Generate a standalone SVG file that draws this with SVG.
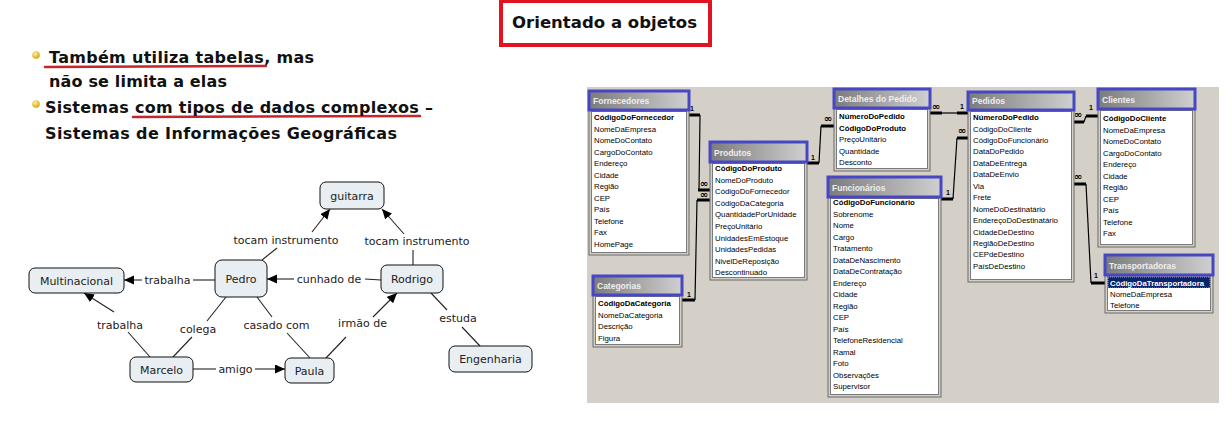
<svg xmlns="http://www.w3.org/2000/svg" width="1232" height="433" viewBox="0 0 1232 433">
<style>
.hd{font-family:"DejaVu Sans",Verdana,sans-serif;font-weight:bold;fill:#111}
.ul{stroke:#c4262c;stroke-width:2.5;fill:none;stroke-linecap:round}
.node rect{fill:#e8eef2;stroke:#111;stroke-width:1}
.nt{font-family:"DejaVu Sans",Verdana,sans-serif;font-size:11px;fill:#222;text-anchor:middle}
.ed{stroke:#222;stroke-width:1.1;fill:none}
.ar{marker-end:url(#ah)}
.fr{fill:#d4d0c8;stroke:#6a6a6a;stroke-width:1}
.bd{fill:#fff;stroke:#7a7a7a;stroke-width:1}
.tb{fill:url(#tg)}
.hl{fill:none;stroke:#4747c4;stroke-width:3}
.tt{font-family:"Liberation Sans",Arial,sans-serif;font-size:8.5px;font-weight:bold;fill:#eeeeee}
.rw{font-family:"Liberation Sans",Arial,sans-serif;font-size:7.8px;fill:#000}
.pk{font-weight:bold}
.rl{stroke:#000;stroke-width:1.2;fill:none}
.st{stroke:#000;stroke-width:3;fill:none}
.cd{font-family:"Liberation Sans",Arial,sans-serif;font-size:7px;font-weight:bold;fill:#000}
.inf{font-family:"DejaVu Sans",sans-serif;font-size:10px;font-weight:bold;fill:#000;text-anchor:middle}
</style>
<defs>
<marker id="ah" markerUnits="userSpaceOnUse" markerWidth="11" markerHeight="10" refX="10" refY="4.5" orient="auto">
<path d="M0,0 L10,4.5 L0,9 z" fill="#000"/>
</marker>
<linearGradient id="tg" x1="0" y1="0" x2="1" y2="0">
<stop offset="0" stop-color="#7c7c7c"/>
<stop offset="1" stop-color="#cfcfcf"/>
</linearGradient>
<radialGradient id="bl" cx="0.4" cy="0.35" r="0.7">
<stop offset="0" stop-color="#fff3a0"/>
<stop offset="1" stop-color="#d49a00"/>
</radialGradient>
</defs>
<rect width="1232" height="433" fill="#fff"/>

<g id="title">
<rect x="501" y="1" width="209" height="44" fill="#fff" stroke="#e0141e" stroke-width="4"/>
<text class="hd" x="512" y="28" font-size="16.5" textLength="185">Orientado a objetos</text>
</g>

<g id="bullets">
<circle cx="36" cy="55" r="3.8" fill="url(#bl)"/>
<circle cx="36" cy="104" r="3.8" fill="url(#bl)"/>
<path class="ul" d="M45,67 L266,66"/>
<path class="ul" d="M133,117 L420,116"/>
<text class="hd" x="49" y="63" font-size="16" textLength="265">Também utiliza tabelas, mas</text>
<text class="hd" x="49" y="87" font-size="16" textLength="178">não se limita a elas</text>
<text class="hd" x="45" y="113" font-size="16" textLength="388">Sistemas com tipos de dados complexos –</text>
<text class="hd" x="45" y="139" font-size="16" textLength="352">Sistemas de Informações Geográficas</text>
</g>

<g id="connectors">
<path class="ed" d="M262,260 L277,248"/>
<path class="ed ar" d="M312,232 L330,209"/>
<path class="ed" d="M413,265 L413,250"/>
<path class="ed ar" d="M404,234 L382,209"/>
<path class="ed" d="M215,280 L193,280"/>
<path class="ed ar" d="M142,280 L124,280"/>
<path class="ed" d="M381,280 L365,279"/>
<path class="ed ar" d="M294,279 L267,279"/>
<path class="ed" d="M150,357 L128,332"/>
<path class="ed ar" d="M114,312 L84,293"/>
<path class="ed" d="M173,357 L192,337"/>
<path class="ed" d="M207,321 L226,297"/>
<path class="ed" d="M257,297 L272,317"/>
<path class="ed" d="M287,333 L310,358"/>
<path class="ed" d="M326,358 L346,337"/>
<path class="ed ar" d="M373,317 L397,293"/>
<path class="ed" d="M431,293 L447,310"/>
<path class="ed" d="M462,327 L480,346"/>
<path class="ed" d="M193,369 L216,369"/>
<path class="ed ar" d="M255,369 L285,369"/>
<text class="nt" x="286" y="244">tocam instrumento</text>
<text class="nt" x="417" y="245">tocam instrumento</text>
<text class="nt" x="167.5" y="284">trabalha</text>
<text class="nt" x="329" y="283">cunhado de</text>
<text class="nt" x="120" y="329">trabalha</text>
<text class="nt" x="198" y="333">colega</text>
<text class="nt" x="276.5" y="329">casado com</text>
<text class="nt" x="362.5" y="327">irmão de</text>
<text class="nt" x="458" y="322">estuda</text>
<text class="nt" x="235.5" y="373">amigo</text>
</g>

<g id="n-guitarra" class="node"><rect x="320" y="182" width="64" height="27" rx="6"/><text class="nt" x="352" y="200">guitarra</text></g>
<g id="n-multinacional" class="node"><rect x="29" y="268" width="95" height="25" rx="6"/><text class="nt" x="76.5" y="285">Multinacional</text></g>
<g id="n-pedro" class="node"><rect x="215" y="260" width="52" height="37" rx="7"/><text class="nt" x="241" y="283">Pedro</text></g>
<g id="n-rodrigo" class="node"><rect x="381" y="265" width="62" height="28" rx="6"/><text class="nt" x="412" y="283">Rodrigo</text></g>
<g id="n-marcelo" class="node"><rect x="130" y="357" width="63" height="25" rx="6"/><text class="nt" x="161.5" y="374">Marcelo</text></g>
<g id="n-paula" class="node"><rect x="285" y="358" width="49" height="25" rx="6"/><text class="nt" x="309.5" y="375">Paula</text></g>
<g id="n-engenharia" class="node"><rect x="449" y="346" width="83" height="26" rx="6"/><text class="nt" x="490.5" y="363">Engenharia</text></g>

<rect id="db-panel" x="587" y="87" width="632" height="316" fill="#d4d0c8"/>

<g id="db-connectors">
<path class="st" d="M687,115 H700"/><path class="rl" d="M700,115 L699,190"/><path class="st" d="M698,190 H712"/>
<text class="cd" x="690" y="111">1</text><text class="inf" x="704" y="187">∞</text>
<path class="st" d="M681,300 H695"/><path class="rl" d="M695,300 L697,200"/><path class="st" d="M697,200 H712"/>
<text class="cd" x="687" y="297">1</text><text class="inf" x="704" y="198">∞</text>
<path class="st" d="M806,163 H819"/><path class="rl" d="M819,163 L821,126"/><path class="st" d="M821,126 H835"/>
<text class="cd" x="811" y="160">1</text><text class="inf" x="828" y="122">∞</text>
<path class="st" d="M929,113 H942"/><path class="rl" d="M942,113 H957"/><path class="st" d="M957,113 H969"/>
<text class="inf" x="936" y="110">∞</text><text class="cd" x="960" y="109">1</text>
<path class="st" d="M940,199 H953"/><path class="rl" d="M953,199 L957,138"/><path class="st" d="M957,138 H969"/>
<text class="cd" x="946" y="195">1</text><text class="inf" x="962" y="134">∞</text>
<path class="st" d="M1073,122 H1084"/><path class="rl" d="M1084,122 L1086,116"/><path class="st" d="M1086,116 H1100"/>
<text class="inf" x="1078" y="118">∞</text><text class="cd" x="1089" y="110">1</text>
<path class="st" d="M1073,184 H1086"/><path class="rl" d="M1086,184 L1091,283"/><path class="st" d="M1091,283 H1107"/>
<text class="inf" x="1078" y="180">∞</text><text class="cd" x="1094" y="278">1</text>
</g>

<g id="t-fornecedores">
<rect class="fr" x="589" y="91" width="100" height="164"/>
<rect class="tb" x="590" y="92" width="98" height="18"/>
<rect class="bd" x="591.5" y="111.5" width="95" height="141"/>
<rect class="hl" x="589" y="91" width="100" height="19"/>
<text class="tt" x="593" y="104">Fornecedores</text>
<text class="rw pk" x="594" y="120">CódigoDoFornecedor</text>
<text class="rw" x="594" y="131.5">NomeDaEmpresa</text>
<text class="rw" x="594" y="143">NomeDoContato</text>
<text class="rw" x="594" y="154.5">CargoDoContato</text>
<text class="rw" x="594" y="166">Endereço</text>
<text class="rw" x="594" y="177.5">Cidade</text>
<text class="rw" x="594" y="189">Região</text>
<text class="rw" x="594" y="200.5">CEP</text>
<text class="rw" x="594" y="212">País</text>
<text class="rw" x="594" y="223.5">Telefone</text>
<text class="rw" x="594" y="235">Fax</text>
<text class="rw" x="594" y="246.5">HomePage</text>
</g>

<g id="t-produtos">
<rect class="fr" x="710" y="142" width="97" height="138"/>
<rect class="tb" x="711" y="143" width="95" height="18"/>
<rect class="bd" x="712.5" y="163.5" width="92" height="114"/>
<rect class="hl" x="710" y="142" width="97" height="20"/>
<text class="tt" x="714" y="156">Produtos</text>
<text class="rw pk" x="715" y="171">CódigoDoProduto</text>
<text class="rw" x="715" y="182.6">NomeDoProduto</text>
<text class="rw" x="715" y="194.2">CódigoDoFornecedor</text>
<text class="rw" x="715" y="205.8">CódigoDaCategoria</text>
<text class="rw" x="715" y="217.4">QuantidadePorUnidade</text>
<text class="rw" x="715" y="229">PreçoUnitário</text>
<text class="rw" x="715" y="240.6">UnidadesEmEstoque</text>
<text class="rw" x="715" y="252.2">UnidadesPedidas</text>
<text class="rw" x="715" y="263.8">NivelDeReposição</text>
<text class="rw" x="715" y="275.4">Descontinuado</text>
</g>

<g id="t-categorias">
<rect class="fr" x="593" y="276" width="89" height="71"/>
<rect class="tb" x="594" y="277" width="87" height="17"/>
<rect class="bd" x="595.5" y="296.5" width="84" height="48"/>
<rect class="hl" x="593" y="276" width="89" height="19"/>
<text class="tt" x="597" y="289">Categorias</text>
<text class="rw pk" x="598" y="306">CódigoDaCategoria</text>
<text class="rw" x="598" y="317.6">NomeDaCategoria</text>
<text class="rw" x="598" y="329.2">Descrição</text>
<text class="rw" x="598" y="340.8">Figura</text>
</g>

<g id="t-detalhes">
<rect class="fr" x="834" y="89" width="96" height="82"/>
<rect class="tb" x="835" y="90" width="94" height="17"/>
<rect class="bd" x="836.5" y="109.5" width="91" height="59"/>
<rect class="hl" x="834" y="89" width="96" height="19"/>
<text class="tt" x="838" y="102">Detalhes do Pedido</text>
<text class="rw pk" x="839" y="119">NúmeroDoPedido</text>
<text class="rw pk" x="839" y="130.5">CódigoDoProduto</text>
<text class="rw" x="839" y="142">PreçoUnitário</text>
<text class="rw" x="839" y="153.5">Quantidade</text>
<text class="rw" x="839" y="165">Desconto</text>
</g>

<g id="t-funcionarios">
<rect class="fr" x="828" y="177" width="113" height="220"/>
<rect class="tb" x="829" y="178" width="111" height="18"/>
<rect class="bd" x="830.5" y="198.5" width="108" height="196"/>
<rect class="hl" x="828" y="177" width="113" height="20"/>
<text class="tt" x="832" y="191">Funcionários</text>
<text class="rw pk" x="833" y="205">CódigoDoFuncionário</text>
<text class="rw" x="833" y="216.5">Sobrenome</text>
<text class="rw" x="833" y="228">Nome</text>
<text class="rw" x="833" y="239.5">Cargo</text>
<text class="rw" x="833" y="251">Tratamento</text>
<text class="rw" x="833" y="262.5">DataDeNascimento</text>
<text class="rw" x="833" y="274">DataDeContratação</text>
<text class="rw" x="833" y="285.5">Endereço</text>
<text class="rw" x="833" y="297">Cidade</text>
<text class="rw" x="833" y="308.5">Região</text>
<text class="rw" x="833" y="320">CEP</text>
<text class="rw" x="833" y="331.5">País</text>
<text class="rw" x="833" y="343">TelefoneResidencial</text>
<text class="rw" x="833" y="354.5">Ramal</text>
<text class="rw" x="833" y="366">Foto</text>
<text class="rw" x="833" y="377.5">Observações</text>
<text class="rw" x="833" y="389">Supervisor</text>
</g>

<g id="t-pedidos">
<rect class="fr" x="968" y="92" width="106" height="190"/>
<rect class="tb" x="969" y="93" width="104" height="16"/>
<rect class="bd" x="970.5" y="111.5" width="101" height="168"/>
<rect class="hl" x="968" y="92" width="106" height="18"/>
<text class="tt" x="972" y="104">Pedidos</text>
<text class="rw pk" x="973" y="120">NúmeroDoPedido</text>
<text class="rw" x="973" y="131.5">CódigoDoCliente</text>
<text class="rw" x="973" y="142.9">CódigoDoFuncionário</text>
<text class="rw" x="973" y="154.4">DataDoPedido</text>
<text class="rw" x="973" y="165.8">DataDeEntrega</text>
<text class="rw" x="973" y="177.3">DataDeEnvio</text>
<text class="rw" x="973" y="188.7">Via</text>
<text class="rw" x="973" y="200.2">Frete</text>
<text class="rw" x="973" y="211.6">NomeDoDestinatário</text>
<text class="rw" x="973" y="223.1">EndereçoDoDestinatário</text>
<text class="rw" x="973" y="234.5">CidadeDeDestino</text>
<text class="rw" x="973" y="246">RegiãoDeDestino</text>
<text class="rw" x="973" y="257.4">CEPdeDestino</text>
<text class="rw" x="973" y="268.9">PaísDeDestino</text>
</g>

<g id="t-clientes">
<rect class="fr" x="1098" y="89" width="97" height="158"/>
<rect class="tb" x="1099" y="90" width="95" height="18"/>
<rect class="bd" x="1100.5" y="110.5" width="92" height="134"/>
<rect class="hl" x="1098" y="89" width="97" height="20"/>
<text class="tt" x="1102" y="103">Clientes</text>
<text class="rw pk" x="1103" y="121">CódigoDoCliente</text>
<text class="rw" x="1103" y="132.5">NomeDaEmpresa</text>
<text class="rw" x="1103" y="144">NomeDoContato</text>
<text class="rw" x="1103" y="155.5">CargoDoContato</text>
<text class="rw" x="1103" y="167">Endereço</text>
<text class="rw" x="1103" y="178.5">Cidade</text>
<text class="rw" x="1103" y="190">Região</text>
<text class="rw" x="1103" y="201.5">CEP</text>
<text class="rw" x="1103" y="213">País</text>
<text class="rw" x="1103" y="224.5">Telefone</text>
<text class="rw" x="1103" y="236">Fax</text>
</g>

<g id="t-transportadoras">
<rect class="fr" x="1105" y="255" width="108" height="58"/>
<rect class="tb" x="1106" y="256" width="106" height="18"/>
<rect class="bd" x="1107.5" y="276.5" width="103" height="34"/>
<rect x="1108" y="277" width="102" height="11" fill="#0a246a" stroke="#fff" stroke-width="0.6" stroke-dasharray="1,1"/>
<rect class="hl" x="1105" y="255" width="108" height="20"/>
<text class="tt" x="1109" y="269">Transportadoras</text>
<text class="rw pk" x="1110" y="285.5" style="fill:#fff">CódigoDaTransportadora</text>
<text class="rw" x="1110" y="297">NomeDaEmpresa</text>
<text class="rw" x="1110" y="308">Telefone</text>
</g>
</svg>
